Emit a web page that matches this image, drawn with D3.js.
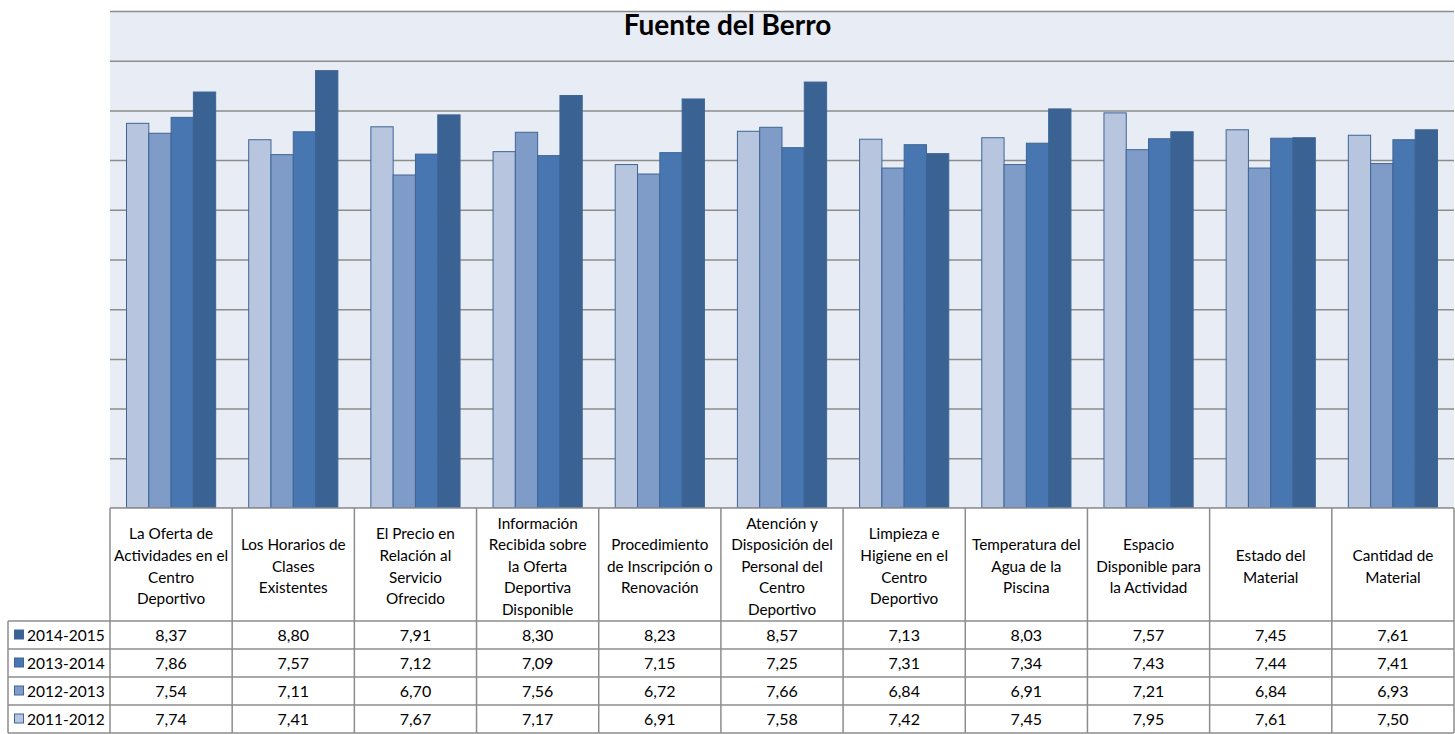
<!DOCTYPE html>
<html>
<head>
<meta charset="utf-8">
<script src="https://cdn.jsdelivr.net/npm/d3@7"></script>
<style>
  body { margin: 0; background: #fff; }
  svg { display: block; font-family: Lato, "Open Sans", sans-serif; }
</style>
</head>
<body>
<div id="chart"></div>
<script>
const title = 'Fuente del Berro';

const categories = [
  ['La Oferta de', 'Actividades en el', 'Centro', 'Deportivo'],
  ['Los Horarios de', 'Clases', 'Existentes'],
  ['El Precio en', 'Relación al', 'Servicio', 'Ofrecido'],
  ['Información', 'Recibida sobre', 'la Oferta', 'Deportiva', 'Disponible'],
  ['Procedimiento', 'de Inscripción o', 'Renovación'],
  ['Atención y', 'Disposición del', 'Personal del', 'Centro', 'Deportivo'],
  ['Limpieza e', 'Higiene en el', 'Centro', 'Deportivo'],
  ['Temperatura del', 'Agua de la', 'Piscina'],
  ['Espacio', 'Disponible para', 'la Actividad'],
  ['Estado del', 'Material'],
  ['Cantidad de', 'Material'],
];

const seriesNames = ['2011-2012', '2012-2013', '2013-2014', '2014-2015'];
const values2011 = [7.74, 7.41, 7.67, 7.17, 6.91, 7.58, 7.42, 7.45, 7.95, 7.61, 7.50];
const values2012 = [7.54, 7.11, 6.70, 7.56, 6.72, 7.66, 6.84, 6.91, 7.21, 6.84, 6.93];
const values2013 = [7.86, 7.57, 7.12, 7.09, 7.15, 7.25, 7.31, 7.34, 7.43, 7.44, 7.41];
const values2014 = [8.37, 8.80, 7.91, 8.30, 8.23, 8.57, 7.13, 8.03, 7.57, 7.45, 7.61];
const seriesValues = [values2011, values2012, values2013, values2014];
const colors = ['#b7c5df', '#7f9bc7', '#4776b0', '#3a6394'];
const yMax = 10;

const width = 1455, height = 734;
const plotLeft = 110, plotRight = 1454, plotTop = 11, plotBottom = 508;
const headerBottom = 621, rowH = 28;
const rowLeft = 8;

const svg = d3.select('#chart').append('svg')
  .attr('width', width).attr('height', height);

const idx = d3.range(categories.length);
const x = d3.scaleBand().domain(idx).range([plotLeft, plotRight]);
const xInner = d3.scaleBand().domain(d3.range(seriesNames.length))
  .range([0, x.bandwidth()]).paddingInner(0).paddingOuter(0.74);
const y = d3.scaleLinear().domain([0, yMax]).range([plotBottom, plotTop]);

// plot background
svg.append('rect')
  .attr('x', plotLeft).attr('y', plotTop)
  .attr('width', plotRight - plotLeft).attr('height', plotBottom - plotTop)
  .attr('fill', '#e8ecf4');

// gridlines
const grid = svg.append('g')
  .attr('transform', `translate(${plotLeft},0)`)
  .call(d3.axisLeft(y).ticks(10).tickSize(-(plotRight - plotLeft)).tickFormat(''));
grid.select('.domain').remove();
grid.selectAll('line').attr('stroke', '#8c8c8c').attr('stroke-width', 1.5);

// bars
seriesValues.forEach((vals, s) => {
  svg.append('g').selectAll('rect')
    .data(vals)
    .join('rect')
    .attr('x', (d, i) => x(i) + xInner(s))
    .attr('y', d => y(d))
    .attr('width', xInner.bandwidth())
    .attr('height', d => plotBottom - y(d))
    .attr('fill', colors[s])
    .attr('stroke', '#3e6596')
    .attr('stroke-width', 1);
});

// title (centred on the whole picture, not the plot)
svg.append('text')
  .attr('x', width / 2).attr('y', 35)
  .attr('text-anchor', 'middle')
  .attr('font-size', 28).attr('font-weight', 'bold')
  .attr('fill', '#000')
  .text(title);

// data table
const table = svg.append('g');
const lineCol = '#8c8c8c';

table.append('rect')
  .attr('x', plotLeft).attr('y', plotBottom)
  .attr('width', plotRight - plotLeft).attr('height', headerBottom - plotBottom)
  .attr('fill', '#fff');

// header labels
const headerMid = (plotBottom + headerBottom) / 2 + 2;
const lineH = 21.6;
idx.forEach(i => {
  const lines = categories[i];
  const t = table.append('text')
    .attr('text-anchor', 'middle')
    .attr('font-size', 15.3)
    .attr('fill', '#000');
  lines.forEach((ln, k) => {
    t.append('tspan')
      .attr('x', x(i) + x.bandwidth() / 2)
      .attr('y', headerMid + (k - (lines.length - 1) / 2) * lineH)
      .attr('dy', '0.35em')
      .text(ln);
  });
});

// rows: top row is the latest series
const rowOrder = d3.range(seriesNames.length).reverse();
rowOrder.forEach((s, r) => {
  const ry = headerBottom + r * rowH;
  const row = table.append('g');
  // legend key
  row.append('rect')
    .attr('x', 14.5).attr('y', ry + rowH / 2 - 5)
    .attr('width', 9).attr('height', 9)
    .attr('fill', colors[s]).attr('stroke', '#3e6596').attr('stroke-width', 1);
  row.append('text')
    .attr('x', 27).attr('y', ry + rowH / 2).attr('dy', '0.36em')
    .attr('font-size', 15.5).attr('fill', '#000')
    .text(seriesNames[s]);
  row.selectAll('text.v')
    .data(seriesValues[s])
    .join('text')
    .attr('class', 'v')
    .attr('x', (d, i) => x(i) + x.bandwidth() / 2)
    .attr('y', ry + rowH / 2).attr('dy', '0.36em')
    .attr('text-anchor', 'middle')
    .attr('font-size', 16).attr('fill', '#000')
    .text(d => d.toFixed(2).replace('.', ','));
});

// table grid lines
const tableBottom = headerBottom + rowH * seriesNames.length;
const vLines = idx.map(i => x(i)).concat([plotRight]);
table.selectAll('line.v')
  .data(vLines)
  .join('line')
  .attr('x1', d => d).attr('x2', d => d)
  .attr('y1', plotBottom).attr('y2', tableBottom)
  .attr('stroke', lineCol).attr('stroke-width', 1.5);
table.append('line')
  .attr('x1', rowLeft).attr('x2', rowLeft)
  .attr('y1', headerBottom).attr('y2', tableBottom)
  .attr('stroke', lineCol).attr('stroke-width', 1.5);
d3.range(seriesNames.length + 1).forEach(r => {
  table.append('line')
    .attr('x1', rowLeft).attr('x2', plotRight)
    .attr('y1', headerBottom + r * rowH).attr('y2', headerBottom + r * rowH)
    .attr('stroke', lineCol).attr('stroke-width', 1.5);
});
table.append('line')
  .attr('x1', plotLeft).attr('x2', plotRight)
  .attr('y1', plotBottom).attr('y2', plotBottom)
  .attr('stroke', lineCol).attr('stroke-width', 1.5);
</script>
</body>
</html>
